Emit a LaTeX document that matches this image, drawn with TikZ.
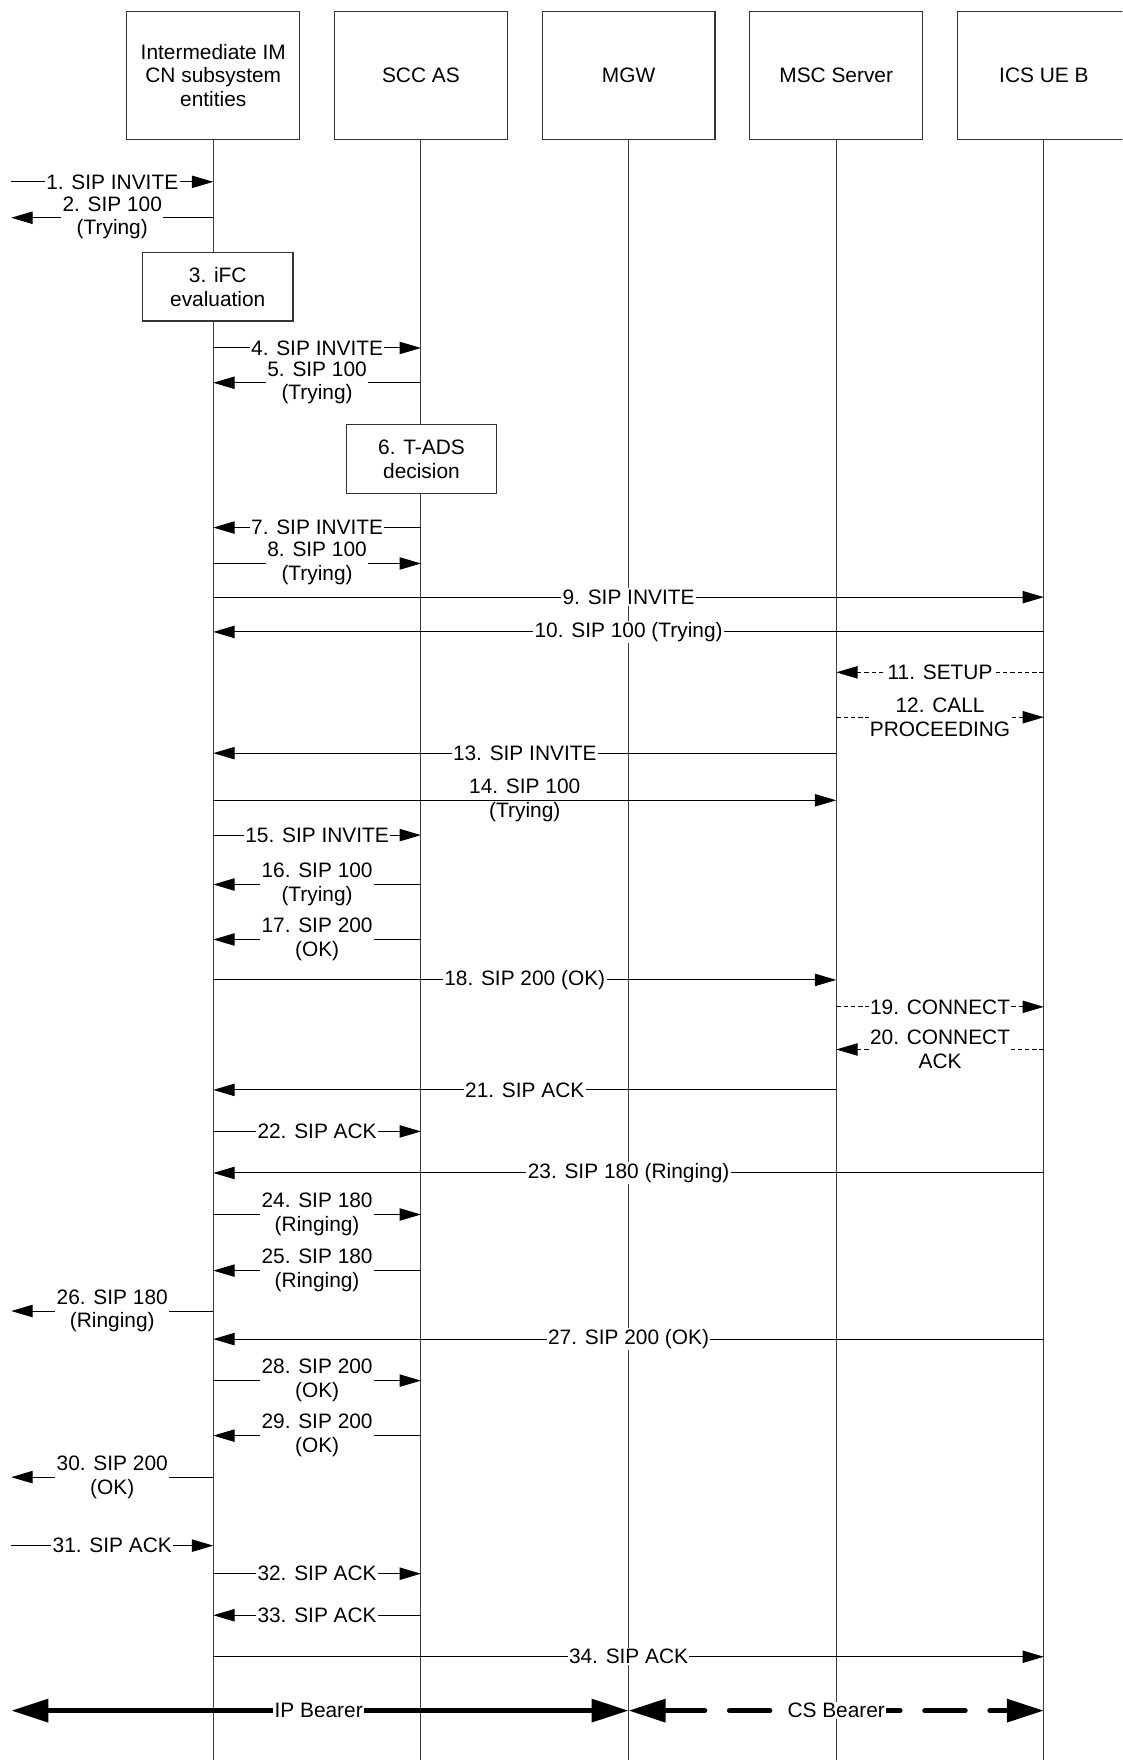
\documentclass[tikz,border=0pt]{standalone}
\usepackage{fontspec}
\setmainfont{Liberation Sans}
\usetikzlibrary{arrows.meta}
\begin{document}
\begin{tikzpicture}[x=1pt,y=-1pt,
  every node/.style={font=\fontsize{18.6}{21}\selectfont},
  head/.style={draw=black!80,line width=1pt,fill=white,minimum width=154pt,minimum height=114pt,align=center,inner sep=0pt},
  actbox/.style={draw=black!80,line width=1pt,fill=white,align=center,inner sep=0pt},
  life/.style={draw=black!75,line width=0.9pt},
  msg/.style={draw=black,line width=0.9pt,-{Triangle[length=19pt,width=11pt]}},
  dmsg/.style={msg,dash pattern=on 4pt off 2.5pt},
  lbl/.style={fill=white,inner sep=1.2pt,align=center},
  nlbl/.style={inner sep=1.2pt,align=center},
  bearer/.style={line width=4.5pt,{Triangle[length=33pt,width=20pt]}-{Triangle[length=33pt,width=20pt]}},
]
\useasboundingbox (0,0) rectangle (1000,1568);
\clip (0,0) rectangle (1000,1568);

% lifeline reference coordinates
\coordinate (E) at (10,0);
\coordinate (A) at (190,0);
\coordinate (B) at (375,0);
\coordinate (C) at (560,0);
\coordinate (D) at (745,0);
\coordinate (F) at (930,0);

% headers
\node[head] (hA) at (190,67) {Intermediate IM\\CN subsystem\\entities};
\node[head] (hB) at (375,67) {SCC AS};
\node[head] (hC) at (560,67) {MGW};
\node[head] (hD) at (745,67) {MSC Server};
\node[head] (hF) at (930,67) {ICS UE B};

% lifelines
\draw[life] (hA.south) -- (A |- 0,1568);
\draw[life] (hB.south) -- (B |- 0,1568);
\draw[life] (hC.south) -- (C |- 0,1568);
\draw[life] (hD.south) -- (D |- 0,1568);
\draw[life] (hF.south) -- (F |- 0,1568);

% action boxes
\node[actbox,minimum width=134pt,minimum height=61pt] (ifc) at (194,255.5) {3. iFC\\evaluation};
\node[actbox,minimum width=133pt,minimum height=62pt] (tads) at (375.5,409) {6. T-ADS\\decision};

% messages
\draw[msg] (E |- 0,162) -- node[lbl]{1. SIP INVITE} (A |- 0,162);
\draw[msg] (A |- 0,194) -- node[lbl]{2. SIP 100\\(Trying)} (E |- 0,194);
\draw[msg] (A |- 0,310) -- node[lbl]{4. SIP INVITE} (B |- 0,310);
\draw[msg] (B |- 0,341) -- node[lbl]{5. SIP 100\\(Trying)} (A |- 0,341);
\draw[msg] (B |- 0,470) -- node[lbl]{7. SIP INVITE} (A |- 0,470);
\draw[msg] (A |- 0,502) -- node[lbl]{8. SIP 100\\(Trying)} (B |- 0,502);
\draw[msg] (A |- 0,532) -- node[lbl]{9. SIP INVITE} (F |- 0,532);
\draw[msg] (F |- 0,563) -- node[lbl]{10. SIP 100 (Trying)} (A |- 0,563);
\draw[dmsg] (F |- 0,599) -- node[lbl]{11. SETUP} (D |- 0,599);
\draw[dmsg] (D |- 0,639) -- node[lbl]{12. CALL\\PROCEEDING} (F |- 0,639);
\draw[msg] (D |- 0,671) -- node[lbl]{13. SIP INVITE} (A |- 0,671);
\draw[msg] (A |- 0,713) -- node[nlbl]{14. SIP 100\\(Trying)} (D |- 0,713);
\draw[msg] (A |- 0,744) -- node[lbl]{15. SIP INVITE} (B |- 0,744);
\draw[msg] (B |- 0,788) -- node[lbl]{16. SIP 100\\(Trying)} (A |- 0,788);
\draw[msg] (B |- 0,837) -- node[lbl]{17. SIP 200\\(OK)} (A |- 0,837);
\draw[msg] (A |- 0,873) -- node[lbl]{18. SIP 200 (OK)} (D |- 0,873);
\draw[dmsg] (D |- 0,897) -- node[lbl]{19. CONNECT} (F |- 0,897);
\draw[dmsg] (F |- 0,935) -- node[lbl]{20. CONNECT\\ACK} (D |- 0,935);
\draw[msg] (D |- 0,971) -- node[lbl]{21. SIP ACK} (A |- 0,971);
\draw[msg] (A |- 0,1008) -- node[lbl]{22. SIP ACK} (B |- 0,1008);
\draw[msg] (F |- 0,1045) -- node[lbl]{23. SIP 180 (Ringing)} (A |- 0,1045);
\draw[msg] (A |- 0,1082) -- node[lbl]{24. SIP 180\\(Ringing)} (B |- 0,1082);
\draw[msg] (B |- 0,1132) -- node[lbl]{25. SIP 180\\(Ringing)} (A |- 0,1132);
\draw[msg] (A |- 0,1168) -- node[lbl]{26. SIP 180\\(Ringing)} (E |- 0,1168);
\draw[msg] (F |- 0,1193) -- node[lbl]{27. SIP 200 (OK)} (A |- 0,1193);
\draw[msg] (A |- 0,1230) -- node[lbl]{28. SIP 200\\(OK)} (B |- 0,1230);
\draw[msg] (B |- 0,1279) -- node[lbl]{29. SIP 200\\(OK)} (A |- 0,1279);
\draw[msg] (A |- 0,1316) -- node[lbl]{30. SIP 200\\(OK)} (E |- 0,1316);
\draw[msg] (E |- 0,1377) -- node[lbl]{31. SIP ACK} (A |- 0,1377);
\draw[msg] (A |- 0,1402) -- node[lbl]{32. SIP ACK} (B |- 0,1402);
\draw[msg] (B |- 0,1439) -- node[lbl]{33. SIP ACK} (A |- 0,1439);
\draw[msg] (A |- 0,1476) -- node[lbl]{34. SIP ACK} (F |- 0,1476);

% bearers
\draw[bearer] (E |- 0,1524) -- node[lbl,pos=0.498]{IP Bearer} (C |- 0,1524);
\draw[bearer,line cap=round,dash pattern=on 36pt off 22pt] (C |- 0,1524) -- node[lbl]{CS Bearer} (F |- 0,1524);
\end{tikzpicture}
\end{document}
